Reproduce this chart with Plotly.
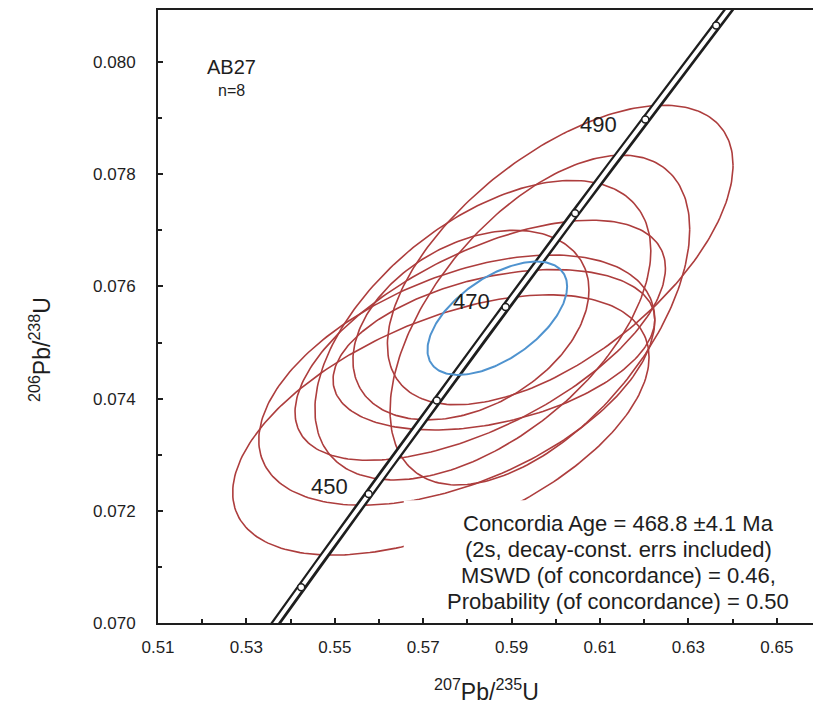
import numpy as np
import plotly.graph_objects as go

# ---- analyses: 207Pb/235U, 206Pb/238U with 2-sigma errors and error correlation ----
ratio75 = [0.5740, 0.5776, 0.5835, 0.5860, 0.5808, 0.6010, 0.5964, 0.5829]
ratio68 = [0.07353, 0.07433, 0.07522, 0.07487, 0.07531, 0.07656, 0.07540, 0.07504]
err75 = [0.0471, 0.0448, 0.0380, 0.0364, 0.0267, 0.0391, 0.0339, 0.0419]
err68 = [0.00232, 0.00223, 0.00267, 0.00143, 0.00169, 0.00267, 0.00294, 0.00214]
rho = [0.52, 0.48, 0.53, 0.375, 0.37, 0.60, 0.55, 0.60]

# concordia age ellipse
age_ma = 468.8
age_err75 = 0.0158
age_err68 = 0.00101
age_rho = 0.56

# concordia age ticks
marker_ages = [440, 450, 460, 470, 480, 490, 500]
labelled_ages = [450, 470, 490]

# axis ticks
x_ticks = [0.51, 0.53, 0.55, 0.57, 0.59, 0.61, 0.63, 0.65]
x_ticklabels = ["0.51", "0.53", "0.55", "0.57", "0.59", "0.61", "0.63", "0.65"]
y_ticks = [0.070, 0.072, 0.074, 0.076, 0.078, 0.080]
y_ticklabels = ["0.070", "0.072", "0.074", "0.076", "0.078", "0.080"]

summary_lines = [
    "Concordia Age = 468.8 \u00b14.1 Ma",
    "(2s, decay-const. errs included)",
    "MSWD (of concordance) = 0.46,",
    "Probability (of concordance) = 0.50",
]

LAMBDA_238 = 1.55125e-10
LAMBDA_235 = 9.8485e-10


def concordia(t_ma):
    t = np.asarray(t_ma, dtype=float) * 1e6
    return np.expm1(LAMBDA_235 * t), np.expm1(LAMBDA_238 * t)


def ellipse(cx, cy, ex, ey, r, n=240):
    th = np.linspace(0, 2 * np.pi, n)
    x = cx + ex * np.cos(th)
    y = cy + ey * (r * np.cos(th) + np.sqrt(1 - r * r) * np.sin(th))
    return x, y


RED = "#ad3d3d"
BLUE = "#4f93cf"
INK = "#1e1e1e"
FONT = "Liberation Sans, Arial, sans-serif"

fig = go.Figure()

# data-point error ellipses
for cx, cy, ex, ey, r in zip(ratio75, ratio68, err75, err68, rho):
    px, py = ellipse(cx, cy, ex, ey, r)
    fig.add_trace(go.Scatter(x=px, y=py, mode="lines",
                             line=dict(color=RED, width=1.6),
                             hoverinfo="skip", showlegend=False))

# concordia band: dark outline with white core
t_curve = np.linspace(425, 512, 400)
cx_curve, cy_curve = concordia(t_curve)
fig.add_trace(go.Scatter(x=cx_curve, y=cy_curve, mode="lines",
                         line=dict(color=INK, width=9),
                         hoverinfo="skip", showlegend=False))
fig.add_trace(go.Scatter(x=cx_curve, y=cy_curve, mode="lines",
                         line=dict(color="white", width=4),
                         hoverinfo="skip", showlegend=False))

# concordia age ellipse
ax_, ay_ = concordia([age_ma])
bx, by = ellipse(ax_[0], ay_[0], age_err75, age_err68, age_rho)
fig.add_trace(go.Scatter(x=bx, y=by, mode="lines",
                         line=dict(color=BLUE, width=2),
                         hoverinfo="skip", showlegend=False))

# age tick marks along the concordia
mx, my = concordia(marker_ages)
fig.add_trace(go.Scatter(x=mx, y=my, mode="markers",
                         marker=dict(symbol="circle", size=7, color="white",
                                     line=dict(color=INK, width=1.5)),
                         hoverinfo="skip", showlegend=False))

annotations = []
label_shift = {450: (-39, 7), 470: (-34, 6), 490: (-47, -5)}
lx, ly = concordia(labelled_ages)
for a, x, y in zip(labelled_ages, lx, ly):
    dx, dy = label_shift[a]
    annotations.append(dict(x=x, y=y, xref="x", yref="y", text=str(a),
                            showarrow=False, xshift=dx, yshift=dy,
                            xanchor="center", yanchor="middle",
                            font=dict(family=FONT, size=22, color=INK)))

# placements below are given in pixels and converted to paper units
L, R, T, B = 158, 0, 10, 84
W, H = 813, 707
PW, PH = W - L - R, H - T - B


def px_note(x, y, text, size, angle=0):
    return dict(x=(x - L) / PW, y=1 - (y - T) / PH, xref="paper", yref="paper",
                text=text, showarrow=False, textangle=angle,
                xanchor="center", yanchor="middle",
                font=dict(family=FONT, size=size, color=INK))


# sample label
annotations.append(px_note(231, 67, "AB27", 20))
annotations.append(px_note(231, 90, "n=8", 16))

# summary statistics block
for i, line in enumerate(summary_lines):
    annotations.append(px_note(618, 523 + 26 * i, line, 22))

# axis titles
annotations.append(px_note(486, 690, "<sup>207</sup>Pb/<sup>235</sup>U", 23))
annotations.append(px_note(40, 350, "<sup>206</sup>Pb/<sup>238</sup>U", 23, -90))

x0, x1 = 0.51, 0.51 + PW / 4420.0
y0, y1 = 0.070, 0.070 + PH / 56100.0

fig.update_layout(
    width=W, height=H, autosize=False,
    margin=dict(l=L, r=R, t=T, b=B, pad=0),
    paper_bgcolor="white", plot_bgcolor="white",
    font=dict(family=FONT, color=INK),
    annotations=annotations,
    shapes=[dict(type="rect", xref="x", yref="y",
                 x0=0.5656, x1=0.6552, y0=0.0702, y1=0.07219,
                 fillcolor="white", line=dict(width=0), layer="above")],
)

fig.update_xaxes(range=[x0, x1], tickvals=x_ticks, ticktext=x_ticklabels,
                 ticks="inside", ticklen=5, tickwidth=1.5, tickcolor=INK,
                 minor=dict(dtick=0.01, tick0=0.51, ticks="inside", ticklen=4,
                            tickwidth=1.5, tickcolor=INK),
                 showline=True, linecolor=INK, linewidth=2, mirror=True,
                 showgrid=False, zeroline=False, ticklabelstandoff=8,
                 tickfont=dict(family=FONT, size=17, color=INK))
fig.update_yaxes(range=[y0, y1], tickvals=y_ticks, ticktext=y_ticklabels,
                 ticks="inside", ticklen=5, tickwidth=1.5, tickcolor=INK,
                 minor=dict(dtick=0.001, tick0=0.070, ticks="inside", ticklen=4,
                            tickwidth=1.5, tickcolor=INK),
                 showline=True, linecolor=INK, linewidth=2,
                 showgrid=False, zeroline=False, ticklabelstandoff=17,
                 tickfont=dict(family=FONT, size=17, color=INK))

fig.write_html("out.html")
